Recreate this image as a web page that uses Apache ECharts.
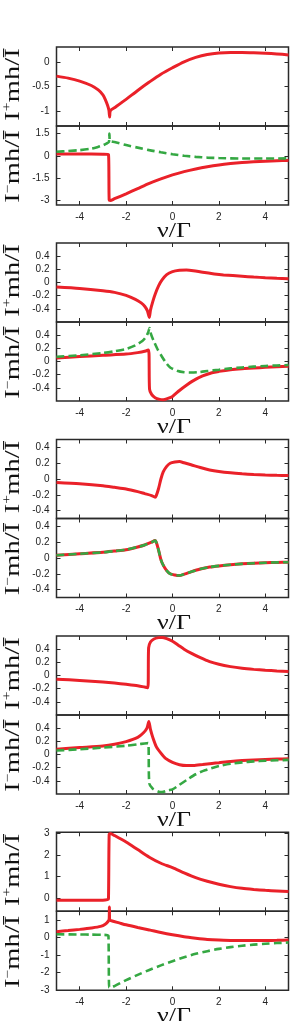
<!DOCTYPE html>
<html><head><meta charset="utf-8">
<script src="https://cdn.jsdelivr.net/npm/echarts@6/dist/echarts.min.js"></script>
<style>html,body{margin:0;padding:0;background:#fff}#c{width:291px;height:1021px}</style>
</head><body><div id="c"></div>
<script>
// ---------- data ----------
const xMin = -5, xMax = 5;
const xTicks = [-4, -2, 0, 2, 4];
const xName = 'ν/Γ';

// panel 1
const p1TopRed = [[-5,-0.29],[-4.5,-0.33],[-4,-0.39],[-3.5,-0.48],[-3.2,-0.57],[-3.0,-0.67],[-2.9,-0.76],[-2.8,-0.88],[-2.74,-0.98],[-2.71,-1.12],[-2.68,-0.99],[-2.5,-0.93],[-2.0,-0.76],[-1.5,-0.58],[-1.0,-0.41],[-0.5,-0.25],[0,-0.12],[0.5,0.0],[1.0,0.09],[1.5,0.15],[2,0.18],[2.5,0.19],[3,0.19],[3.5,0.185],[4,0.175],[4.5,0.16],[5,0.14]];
const p1BotRed = [[-5,0.12],[-4,0.12],[-3,0.11],[-2.76,0.09],[-2.73,-2.96],[-2.68,-3.0],[-2.5,-2.88],[-2,-2.55],[-1.5,-2.2],[-1,-1.85],[-0.5,-1.55],[0,-1.28],[0.5,-1.06],[1,-0.88],[1.5,-0.73],[2,-0.61],[2.5,-0.52],[3,-0.45],[3.5,-0.4],[4,-0.36],[4.5,-0.33],[5,-0.31]];
const p1BotGreen = [[-5,0.27],[-4.5,0.32],[-4,0.38],[-3.5,0.48],[-3.2,0.6],[-3.0,0.7],[-2.85,0.82],[-2.74,0.93],[-2.72,1.5],[-2.7,1.0],[-2.5,0.93],[-2,0.72],[-1.5,0.55],[-1,0.38],[-0.5,0.24],[0,0.11],[0.5,0.0],[1,-0.07],[1.5,-0.12],[2,-0.15],[3,-0.18],[4,-0.18],[5,-0.17]];

// panel 2
const p2TopRed = [[-5,-0.068],[-4,-0.09],[-3,-0.125],[-2.5,-0.15],[-2,-0.195],[-1.6,-0.255],[-1.35,-0.31],[-1.2,-0.36],[-1.08,-0.43],[-1.0,-0.53],[-0.95,-0.42],[-0.85,-0.29],[-0.74,-0.17],[-0.6,-0.05],[-0.45,0.04],[-0.25,0.12],[0,0.165],[0.3,0.185],[0.6,0.19],[0.9,0.18],[1.3,0.155],[1.8,0.13],[2.2,0.115],[3,0.095],[3.5,0.083],[4,0.073],[4.5,0.065],[5,0.058]];
const p2BotRed = [[-5,0.054],[-4,0.075],[-3,0.095],[-2,0.113],[-1.5,0.135],[-1.2,0.155],[-1.03,0.176],[-0.99,-0.42],[-0.9,-0.5],[-0.75,-0.55],[-0.55,-0.575],[-0.4,-0.58],[-0.2,-0.56],[0,-0.53],[0.3,-0.44],[0.6,-0.36],[0.9,-0.29],[1.3,-0.22],[1.7,-0.17],[2,-0.15],[2.5,-0.125],[3,-0.11],[3.5,-0.1],[4,-0.088],[4.5,-0.08],[5,-0.072]];
const p2BotGreen = [[-5,0.072],[-4,0.095],[-3,0.13],[-2.5,0.155],[-2,0.19],[-1.6,0.245],[-1.3,0.31],[-1.15,0.37],[-1.05,0.44],[-0.99,0.51],[-0.93,0.42],[-0.82,0.32],[-0.65,0.19],[-0.5,0.1],[-0.3,-0.01],[-0.1,-0.09],[0.2,-0.14],[0.5,-0.163],[0.8,-0.168],[1.1,-0.163],[1.5,-0.145],[2,-0.125],[2.5,-0.105],[3,-0.09],[3.5,-0.078],[4,-0.068],[4.5,-0.06],[5,-0.054]];

// panel 3
const p3TopRed = [[-5,-0.043],[-4,-0.06],[-3,-0.085],[-2.5,-0.105],[-2,-0.126],[-1.5,-0.16],[-1.2,-0.185],[-0.9,-0.21],[-0.75,-0.23],[-0.7,-0.21],[-0.6,-0.12],[-0.5,0.0],[-0.4,0.09],[-0.25,0.16],[-0.1,0.2],[0.1,0.215],[0.3,0.22],[0.5,0.205],[0.8,0.18],[1.2,0.145],[1.6,0.115],[2,0.095],[2.5,0.078],[3,0.066],[3.5,0.057],[4,0.051],[4.5,0.046],[5,0.043]];
const p3BotRed = [[-5,0.034],[-4,0.054],[-3,0.072],[-2.5,0.088],[-2,0.105],[-1.5,0.14],[-1.2,0.165],[-0.9,0.2],[-0.75,0.22],[-0.7,0.2],[-0.6,0.1],[-0.5,-0.02],[-0.4,-0.09],[-0.25,-0.16],[-0.1,-0.2],[0.1,-0.215],[0.3,-0.222],[0.5,-0.205],[0.8,-0.175],[1.2,-0.14],[1.6,-0.115],[2,-0.1],[2.5,-0.085],[3,-0.074],[3.5,-0.066],[4,-0.06],[4.5,-0.056],[5,-0.053]];
const p3BotGreen = [[-5,0.034],[-4,0.054],[-3,0.072],[-2.5,0.088],[-2,0.105],[-1.5,0.14],[-1.2,0.165],[-0.9,0.2],[-0.75,0.22],[-0.7,0.2],[-0.6,0.1],[-0.5,-0.02],[-0.4,-0.09],[-0.25,-0.16],[-0.1,-0.2],[0.1,-0.215],[0.3,-0.222],[0.5,-0.205],[0.8,-0.175],[1.2,-0.14],[1.6,-0.115],[2,-0.1],[2.5,-0.085],[3,-0.074],[3.5,-0.066],[4,-0.06],[4.5,-0.056],[5,-0.053]];

// panel 4
const p4TopRed = [[-5,-0.057],[-4,-0.075],[-3,-0.1],[-2.5,-0.115],[-2,-0.134],[-1.5,-0.155],[-1.2,-0.175],[-1.06,-0.186],[-1.03,0.42],[-0.95,0.51],[-0.8,0.555],[-0.6,0.575],[-0.45,0.578],[-0.25,0.56],[0,0.52],[0.25,0.46],[0.5,0.4],[0.8,0.34],[1.2,0.27],[1.6,0.21],[2,0.17],[2.5,0.135],[3,0.11],[3.5,0.093],[4,0.08],[4.5,0.07],[5,0.062]];
const p4BotRed = [[-5,0.08],[-4,0.105],[-3,0.13],[-2.5,0.155],[-2,0.195],[-1.5,0.26],[-1.25,0.33],[-1.1,0.4],[-1.02,0.5],[-0.95,0.38],[-0.85,0.26],[-0.7,0.12],[-0.5,0.02],[-0.3,-0.06],[0,-0.12],[0.3,-0.155],[0.6,-0.168],[0.9,-0.168],[1.3,-0.152],[1.7,-0.135],[2,-0.124],[2.5,-0.105],[3,-0.092],[3.5,-0.083],[4,-0.076],[4.5,-0.07],[5,-0.066]];
const p4BotGreen = [[-5,0.061],[-4,0.08],[-3,0.105],[-2,0.133],[-1.5,0.155],[-1.2,0.168],[-1.05,0.173],[-1.0,-0.44],[-0.85,-0.52],[-0.6,-0.565],[-0.45,-0.57],[-0.2,-0.545],[0,-0.53],[0.3,-0.46],[0.6,-0.39],[1,-0.3],[1.4,-0.24],[2,-0.175],[2.5,-0.14],[3,-0.12],[3.5,-0.105],[4,-0.095],[4.5,-0.088],[5,-0.082]];

// panel 5
const p5TopRed = [[-5,-0.09],[-4,-0.09],[-3,-0.085],[-2.8,-0.06],[-2.76,-0.03],[-2.73,2.95],[-2.68,3.0],[-2.5,2.9],[-2,2.6],[-1.5,2.25],[-1,1.9],[-0.5,1.62],[0,1.42],[0.5,1.18],[1,0.96],[1.5,0.79],[2,0.65],[2.5,0.54],[3,0.46],[3.5,0.41],[4,0.37],[4.5,0.34],[5,0.31]];
const p5BotRed = [[-5,0.34],[-4.5,0.4],[-4,0.47],[-3.5,0.55],[-3.1,0.64],[-2.9,0.76],[-2.78,0.92],[-2.73,1.06],[-2.72,1.75],[-2.71,1.0],[-2.6,0.95],[-2.3,0.84],[-2,0.73],[-1.5,0.58],[-1,0.44],[-0.5,0.29],[0,0.16],[0.5,0.05],[1,-0.03],[1.5,-0.1],[2,-0.14],[2.5,-0.16],[3,-0.17],[3.5,-0.17],[4,-0.165],[4.5,-0.155],[5,-0.14]];
const p5BotGreen = [[-5,0.19],[-4,0.18],[-3.5,0.17],[-3,0.16],[-2.8,0.14],[-2.76,0.1],[-2.73,-2.85],[-2.68,-2.85],[-2.5,-2.76],[-2,-2.42],[-1.5,-2.12],[-1,-1.84],[-0.5,-1.58],[0,-1.34],[0.5,-1.12],[1,-0.92],[1.5,-0.77],[2,-0.64],[2.5,-0.54],[3,-0.46],[3.5,-0.4],[4,-0.35],[4.5,-0.31],[5,-0.28]];

// y ranges and tick values (top, bottom per panel)
const yRanges = [[-1.3,0.3],[-3.3,2],[-0.6,0.6],[-0.6,0.6],[-0.5,0.5],[-0.5,0.5],[-0.6,0.6],[-0.6,0.6],[-0.6,3.05],[-3,1.5]];
const yTicks = [[-1,-0.5,0],[-3,-1.5,0,1.5],[-0.4,-0.2,0,0.2,0.4],[-0.4,-0.2,0,0.2,0.4],[-0.4,-0.2,0,0.2,0.4],[-0.4,-0.2,0,0.2,0.4],[-0.4,-0.2,0,0.2,0.4],[-0.4,-0.2,0,0.2,0.4],[0,1,2,3],[-3,-2,-1,0,1]];
const redSeries = [p1TopRed,p1BotRed,p2TopRed,p2BotRed,p3TopRed,p3BotRed,p4TopRed,p4BotRed,p5TopRed,p5BotRed];
const greenSeries = [null,p1BotGreen,null,p2BotGreen,null,p3BotGreen,null,p4BotGreen,null,p5BotGreen];
const ySigns = ['+','−'];

// ---------- layout / style ----------
const L = 56.5, W = 232, H = 79;
const panelTops = [47, 243, 439.5, 636, 832.3];
const frame = '#2a2a2a';
const RED = '#ea2129', GREEN = '#35a843';
const tickFont = "'Liberation Sans Narrow', 'Liberation Sans', Arial, sans-serif";
const serif = "'Liberation Serif', 'DejaVu Serif', serif";

const grids = [], xAxes = [], yAxes = [], series = [], graphics = [];
for (let i = 0; i < 10; i++) {
  const panel = Math.floor(i / 2), row = i % 2;
  const top = panelTops[panel] + row * H;
  grids.push({left: L, top: top, width: W, height: H, show: true, borderColor: frame, borderWidth: 1.5, backgroundColor: 'rgba(0,0,0,0)'});
  const tick = {show: true, inside: true, length: 4, lineStyle: {color: frame, width: 1}};
  const lbl = {color: '#222', fontFamily: tickFont, fontSize: 10};
  const line = {show: false, onZero: false};
  xAxes.push({gridIndex: i, type: 'value', position: 'bottom', min: xMin, max: xMax,
    axisLine: line, splitLine: {show: false},
    axisTick: Object.assign({}, tick, {customValues: xTicks}),
    axisLabel: Object.assign({}, lbl, {show: row === 1, customValues: xTicks, margin: 7})});
  xAxes.push({gridIndex: i, type: 'value', position: 'top', min: xMin, max: xMax,
    axisLine: line, splitLine: {show: false},
    axisTick: Object.assign({}, tick, {customValues: xTicks}), axisLabel: {show: false}});
  yAxes.push({gridIndex: i, type: 'value', position: 'left', min: yRanges[i][0], max: yRanges[i][1],
    axisLine: line, splitLine: {show: false},
    axisTick: Object.assign({}, tick, {customValues: yTicks[i]}),
    axisLabel: Object.assign({}, lbl, {customValues: yTicks[i], margin: 7})});
  yAxes.push({gridIndex: i, type: 'value', position: 'right', min: yRanges[i][0], max: yRanges[i][1],
    axisLine: line, splitLine: {show: false},
    axisTick: Object.assign({}, tick, {customValues: yTicks[i]}), axisLabel: {show: false}});
  series.push({type: 'line', xAxisIndex: 2*i, yAxisIndex: 2*i, data: redSeries[i], showSymbol: false,
    smooth: 0.25, clip: i !== 9, z: 2, lineStyle: {color: RED, width: 3}, emphasis: {disabled: true}});
  if (greenSeries[i]) {
    series.push({type: 'line', xAxisIndex: 2*i, yAxisIndex: 2*i, data: greenSeries[i], showSymbol: false,
      smooth: 0.25, z: 3, lineStyle: {color: GREEN, width: 2.6, type: [8, 4]}, emphasis: {disabled: true}});
  }
  // y axis name (rotated)
  graphics.push({type: 'text', x: 13, y: top + H / 2 + (row === 0 ? -2 : 1), rotation: Math.PI / 2, scaleX: 1.3, scaleY: 1,
    style: {text: '{a|I}{s|' + ySigns[row] + '}{a|mh/Ī}', align: 'center', verticalAlign: 'middle',
      rich: {a: {fontFamily: serif, fontSize: 22, fill: '#111'}, s: {fontFamily: serif, fontSize: 12, fill: '#111', verticalAlign: 'top'}}}});
  if (row === 1) {
    graphics.push({type: 'text', x: L + W / 2 + 1.5, y: top + H + 26, scaleX: 1.18,
      style: {text: xName, fontFamily: serif, fontSize: 22, fill: '#111', align: 'center', verticalAlign: 'middle'}});
  }
}

const chart = echarts.init(document.getElementById('c'), null, {renderer: 'canvas'});
chart.setOption({animation: false, backgroundColor: '#fff', grid: grids, xAxis: xAxes, yAxis: yAxes, series: series, graphic: graphics});
</script></body></html>
